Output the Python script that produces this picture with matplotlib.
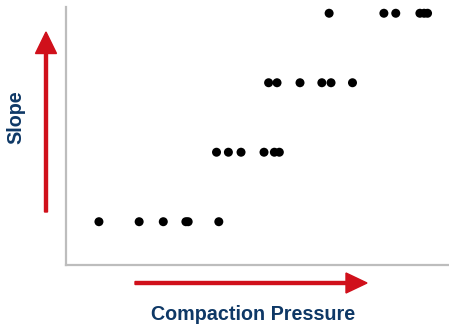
import matplotlib
matplotlib.use("Agg")
import matplotlib.pyplot as plt
from matplotlib.patches import FancyArrow

# Compaction pressure (relative units) and the resulting slope level
pressure_lvl1 = [8.6, 19.1, 25.4, 31.3, 31.9, 39.9]
pressure_lvl2 = [39.3, 42.4, 45.7, 51.7, 54.4, 55.7]
pressure_lvl3 = [52.9, 55.1, 61.1, 66.8, 69.2, 74.8]
pressure_lvl4 = [68.7, 83.0, 86.1, 92.4, 93.5, 94.4]
slope_levels = [1, 2, 3, 4]

W, H, DPI = 449, 327, 100
fig = plt.figure(figsize=(W / DPI, H / DPI), dpi=DPI)
ax = fig.add_axes([66 / W, 62 / H, 383 / W, 258 / H])

for lvl, xs in zip(slope_levels, [pressure_lvl1, pressure_lvl2, pressure_lvl3, pressure_lvl4]):
    ax.scatter(xs, [lvl] * len(xs), s=42, color="black", edgecolors="none", zorder=3)

ax.set_xlim(0, 100)
ax.set_ylim(0.377, 4.09)
ax.set_xticks([])
ax.set_yticks([])
for side in ("top", "right"):
    ax.spines[side].set_visible(False)
for side in ("left", "bottom"):
    ax.spines[side].set_color("#bdbdbd")
    ax.spines[side].set_linewidth(1.6)

red = "#D0101B"
navy = "#0E3866"
tr = fig.dpi_scale_trans
# vertical arrow next to the slope axis
fig.add_artist(FancyArrow(0.46, 1.15, 0, 1.80, width=0.03, head_width=0.21,
                          head_length=0.215, length_includes_head=True,
                          color=red, transform=tr))
# horizontal arrow under the pressure axis
fig.add_artist(FancyArrow(1.35, 0.44, 2.32, 0, width=0.03, head_width=0.20,
                          head_length=0.21, length_includes_head=True,
                          color=red, transform=tr))

fig.text(253 / W, (H - 315) / H, "Compaction Pressure", ha="center", va="center",
         fontsize=14.2, fontweight="bold", color=navy, family="Liberation Sans")
fig.text(16 / W, (H - 117) / H, "Slope", ha="center", va="center", rotation=90,
         fontsize=14.2, fontweight="bold", color=navy, family="Liberation Sans")

fig.savefig("out.png", dpi=DPI)
